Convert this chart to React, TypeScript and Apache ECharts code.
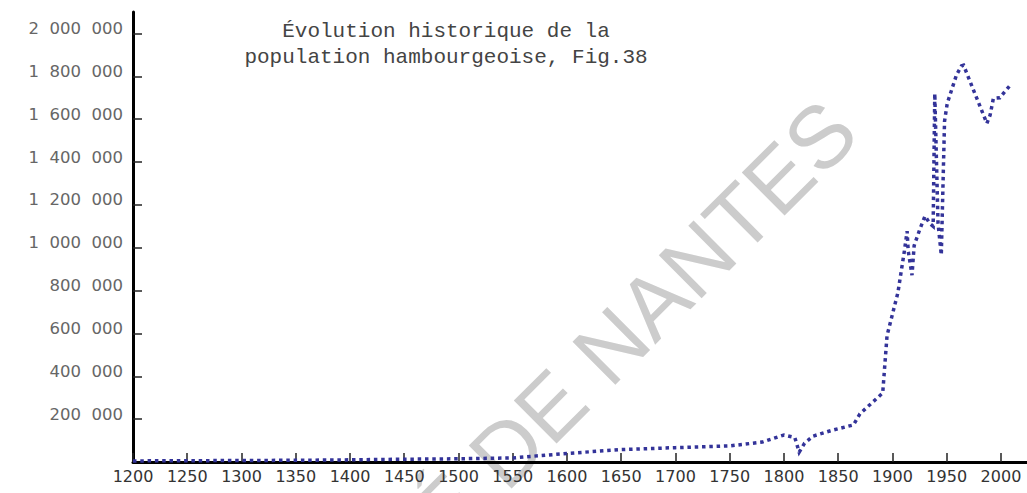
import React, { useEffect, useRef } from "react";
import * as echarts from "echarts";

const titleText = "Évolution historique de la\npopulation hambourgeoise, Fig.38";
const watermarkText = "UNIVERSITÉ DE NANTES";

const years: number[] = [
  1200, 1250, 1300, 1350, 1400, 1450, 1500, 1550, 1600, 1650, 1700, 1750, 1780,
  1800, 1810, 1814, 1819, 1827, 1845, 1864, 1870, 1891, 1895, 1900, 1905, 1911,
  1913.5, 1914.5, 1918, 1920, 1925, 1930, 1934.5, 1937.5, 1939, 1942, 1945, 1948,
  1950.5, 1954.5, 1959, 1963.5, 1965.5, 1987, 1990, 1993, 1999, 2003.5, 2010,
];

const population: number[] = [
  5000, 6000, 7000, 8000, 10000, 13000, 15000, 19000, 40000, 58000, 67000, 75000, 93000,
  126000, 114000, 46000, 88000, 121000, 149000, 173000, 225000, 322000, 590000, 690000, 790000, 985000,
  1077000, 985000, 872000, 1010000, 1083000, 1148000, 1113000, 1100000, 1720000, 1115000, 966000, 1590000,
  1674000, 1736000, 1806000, 1848000, 1852000, 1580000, 1619000, 1697000, 1700000, 1728000, 1767000,
];

const xTicks: number[] = [
  1200, 1250, 1300, 1350, 1400, 1450, 1500, 1550, 1600, 1650, 1700, 1750, 1800, 1850, 1900, 1950, 2000,
];
const yTicks: number[] = [
  200000, 400000, 600000, 800000, 1000000, 1200000, 1400000, 1600000, 1800000, 2000000,
];

function formatPop(v: number): string {
  const s = String(Math.round(v));
  const parts: string[] = [];
  for (let i = s.length; i > 0; i -= 3) {
    parts.unshift(s.substring(Math.max(0, i - 3), i));
  }
  return parts.join("\u00a0\u00a0");
}

export default function App() {
  const ref = useRef<HTMLDivElement>(null);
  useEffect(() => {
    if (!ref.current) return;
    const chart = echarts.init(ref.current, undefined, { renderer: "svg" });
    const data = years.map((y, i) => [y, population[i]]);
    chart.setOption({
      animation: false,
      backgroundColor: "#ffffff",
      title: {
        text: titleText,
        left: 441,
        top: 13,
        textAlign: "center",
        textStyle: {
          fontFamily: "Liberation Mono",
          fontSize: 21,
          fontWeight: "normal",
          color: "#444444",
          lineHeight: 26,
        },
      },
      graphic: [
        {
          type: "text",
          x: 872,
          y: 147,
          rotation: Math.PI / 4,
          z: 0,
          silent: true,
          style: {
            text: watermarkText,
            font: '88px "Liberation Sans"',
            fill: "#cccccc",
            align: "right",
            verticalAlign: "bottom",
          },
        },
      ],
      grid: {
        left: 133,
        right: 0,
        top: 12,
        bottom: 31,
        containLabel: false,
        outerBoundsMode: "none",
      },
      xAxis: {
        type: "value",
        min: 1200,
        max: 2024,
        interval: 50,
        splitLine: { show: false },
        axisLine: { show: true, lineStyle: { color: "#000000", width: 3 } },
        axisTick: {
          show: true,
          inside: true,
          length: 9,
          customValues: xTicks,
          lineStyle: { color: "#222222", width: 1.5 },
        },
        axisLabel: {
          customValues: xTicks,
          margin: 6,
          color: "#333333",
          fontFamily: "DejaVu Sans",
          fontSize: 16,
          formatter: (v: number) => String(v),
        },
      },
      yAxis: {
        type: "value",
        min: 0,
        max: 2100000,
        interval: 200000,
        splitLine: { show: false },
        axisLine: { show: true, lineStyle: { color: "#000000", width: 3 } },
        axisTick: {
          show: true,
          inside: true,
          length: 9,
          customValues: yTicks,
          lineStyle: { color: "#222222", width: 1.5 },
        },
        axisLabel: {
          customValues: yTicks,
          margin: 10,
          color: "#666666",
          fontFamily: "DejaVu Sans",
          fontSize: 16.5,
          verticalAlign: "bottom",
          lineHeight: 10,
          formatter: (v: number) => formatPop(v),
        },
      },
      series: [
        {
          type: "line",
          data,
          showSymbol: false,
          symbol: "none",
          z: 3,
          lineStyle: {
            color: "#333399",
            width: 3.5,
            type: [3.5, 3.8],
            cap: "butt",
            join: "miter",
            miterLimit: 10,
          },
        },
      ],
    });
    return () => chart.dispose();
  }, []);
  return (
    <div
      ref={ref}
      style={{ position: "fixed", left: 0, top: 0, width: 1027, height: 493, background: "#fff" }}
    />
  );
}
